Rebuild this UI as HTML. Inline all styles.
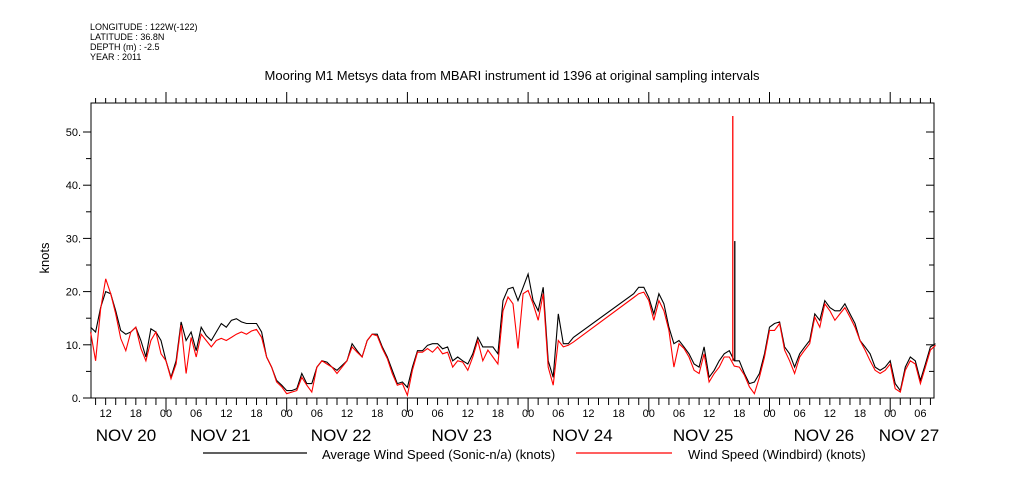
<!DOCTYPE html>
<html><head><meta charset="utf-8"><style>
body{margin:0;background:#fff;}
svg{display:block;font-family:"Liberation Sans",sans-serif;}
</style></head><body>
<svg id="chart" width="1009" height="504" viewBox="0 0 1009 504">
<g font-size="9" fill="#000">
<text x="90" y="30">LONGITUDE : 122W(-122)</text>
<text x="90" y="40">LATITUDE : 36.8N</text>
<text x="90" y="50">DEPTH (m) : -2.5</text>
<text x="90" y="60">YEAR : 2011</text>
</g>
<text x="512" y="80" text-anchor="middle" font-size="13">Mooring M1 Metsys data from MBARI instrument id 1396 at original sampling intervals</text>
<text x="0" y="0" transform="translate(49,258) rotate(-90)" text-anchor="middle" font-size="13">knots</text>
<g id="axes"></g>
<g id="series"></g>
<g>
<line x1="203" y1="453" x2="307" y2="453" stroke="#000" stroke-width="1.2"/>
<text x="322" y="459" font-size="13">Average Wind Speed (Sonic-n/a) (knots)</text>
<line x1="576" y1="453" x2="672" y2="453" stroke="#f00" stroke-width="1.2"/>
<text x="688" y="459" font-size="13">Wind Speed (Windbird) (knots)</text>
</g>
</svg>
<script>
// values hourly from hour 9 (Nov 20 09:00) to hour 177; null = data gap
const startHour = 9;
const avgSpeed = [13.3,12.4,17,20,19.6,16.4,12.7,12,12.4,13.3,10.8,7.7,13,12.4,10.8,7,3.9,7,14.3,10.8,12.4,8.9,13.3,11.75,10.8,12.4,14,13.3,14.6,14.9,14.3,14,14,14,12.4,7.7,5.8,3.3,2.4,1.4,1.4,1.75,4.6,2.7,2.7,5.8,7,6.75,5.8,5.2,6.1,7,10.2,8.9,7.7,10.8,12,12,9.6,7.7,5.2,2.7,3,2,5.8,8.9,8.9,9.9,10.2,10.2,9.25,9.6,7,7.7,7,6.4,8.3,11.4,9.6,9.6,9.6,8.3,18.3,20.5,20.8,18.3,20.8,23.3,18.3,16.4,20.8,7,3.9,15.8,10.2,10.2,11.4,null,null,null,null,null,null,null,null,null,null,null,19.6,20.8,20.8,18.9,15.8,19.6,17.7,13.3,10.2,10.8,9.6,8.3,6.4,5.8,9.6,3.9,5.2,7,8.3,8.9,7,7,4.6,2.7,3,4.6,8.3,13.3,14,14.3,9.6,8.3,5.8,8.3,9.6,10.8,15.8,14.6,18.3,17,16.4,16.4,17.7,15.8,14,10.8,9.6,8.3,5.8,5.2,5.8,7,2.7,1.4,5.8,7.7,7,3.3,6.4,9.6,10.2];
const birdSpeed = [12.4,7,16.7,22.4,19.6,15.8,11.2,8.9,12.4,13.3,9.3,7,10.8,12.4,8.3,7,3.6,6.4,13.7,4.6,11.4,7.7,12,10.8,9.6,10.8,11.2,10.8,11.4,12,12.4,12,12.6,12.9,11.4,7.7,5.8,3,2.1,0.8,1.1,1.4,3.9,2.4,1.1,5.8,7,6.4,5.8,4.6,5.8,7,9.6,8.6,7.7,10.8,12,11.7,9.3,7.4,4.6,2.4,2.7,0.5,5.2,8.6,8.6,9.3,8.6,9.6,8.3,8.6,5.8,7,6.75,5.2,7.7,10.8,7,9,7.7,6.4,16.4,19,17.7,9.3,19.6,20.2,17.7,14.6,19.6,5.8,2.4,10.8,9.6,9.9,10.5,null,null,null,null,null,null,null,null,null,null,null,18.9,19.6,19.9,18.3,14.6,18.3,16.4,12.7,5.8,10.2,9.3,7.7,5.2,4.6,8.3,3,4.6,5.8,7.7,7.7,6,5.8,4.3,2.1,0.8,3.9,7.7,12.7,12.7,14,9,7,4.6,7.7,9,10.2,15.2,13.3,17.7,16.4,14.6,15.8,17,15.2,13.3,10.8,9,7,5.2,4.6,5.2,6.4,1.75,1.1,5.2,7,6.4,2.7,5.8,9,9.9];
// spike near Nov 25 17:00
const spikeHours = [136.9];
const spikeAvg = [29.5];
const spikeBird = [53];
const yTicks = [0,10,20,30,40,50];
const hourLabels = ["06","12","18","00"];
const dayLabels = ["NOV 20","NOV 21","NOV 22","NOV 23","NOV 24","NOV 25","NOV 26","NOV 27"];

const L=91,R=934,T=103,B=398;
const x = h => 166 + (h-24)*120.7/24;
const y = v => B - v*5.32;
const NS="http://www.w3.org/2000/svg";
function mk(tag,attrs,parent){const e=document.createElementNS(NS,tag);for(const k in attrs)e.setAttribute(k,attrs[k]);parent.appendChild(e);return e;}
const ax=document.getElementById('axes');
const frame=mk('rect',{x:L,y:T,width:R-L,height:B-T,fill:'none',stroke:'#000','stroke-width':1},ax);


for(let v=0;v<=50;v+=5){
  const major=v%10===0;
  const t1=mk('line',{x1:L-(major?8:5),x2:L,y1:y(v),y2:y(v),stroke:'#000'},ax);
  
  
  const t2=mk('line',{x1:R,x2:R-(major?8:5),y1:y(v),y2:y(v),stroke:'#000'},ax);
  
  
}
yTicks.forEach(v=>{
  const t=mk('text',{x:L-10,y:y(v)+4,'text-anchor':'end','font-size':11},ax);
  t.textContent=v+'.';
  
  
});
for(let h=10;h<=176;h+=2){
  const xx=x(h); if(xx<L||xx>R)continue;
  const major=h%24===0;
  const b=mk('line',{x1:xx,x2:xx,y1:B,y2:B+(major?14:7),stroke:'#000'},ax);
  
  
  const t=mk('line',{x1:xx,x2:xx,y1:T,y2:T-(major?11:5),stroke:'#000'},ax);
  
  
}
for(let h=12;h<=176;h+=6){
  const lt=mk('text',{x:x(h),y:417,'text-anchor':'middle','font-size':11},ax);
  lt.textContent=hourLabels[(h/6)%4===0?3:((h/6)%4)-1];
  
  
}
dayLabels.forEach((d,i)=>{
  let cx=x(i*24+12)-6;
  if(i===0)cx=126; if(i===7)cx=909;
  const t=mk('text',{x:cx,y:441,'text-anchor':'middle','font-size':17},ax);
  t.textContent=d;
  
  
});
const sg=document.getElementById('series');
function path(vals){let d='';vals.forEach((v,i)=>{if(v===null)return;const h=startHour+i;d+=(d?'L':'M')+x(h).toFixed(1)+','+y(v).toFixed(1);});return d;}
const pa=mk('path',{d:path(avgSpeed),fill:'none',stroke:'#000','stroke-width':1.1},sg);


const pb=mk('path',{d:path(birdSpeed),fill:'none',stroke:'#f00','stroke-width':1.1},sg);


spikeHours.forEach((h,i)=>{
  const s1=mk('line',{x1:x(h)-1,x2:x(h)-1,y1:y(7),y2:y(spikeBird[i]),stroke:'#f00','stroke-width':1.3},sg);
  
  
  const s2=mk('line',{x1:x(h)+1,x2:x(h)+1,y1:y(7),y2:y(spikeAvg[i]),stroke:'#000','stroke-width':1.3},sg);
  
  
});
</script>
</body></html>
